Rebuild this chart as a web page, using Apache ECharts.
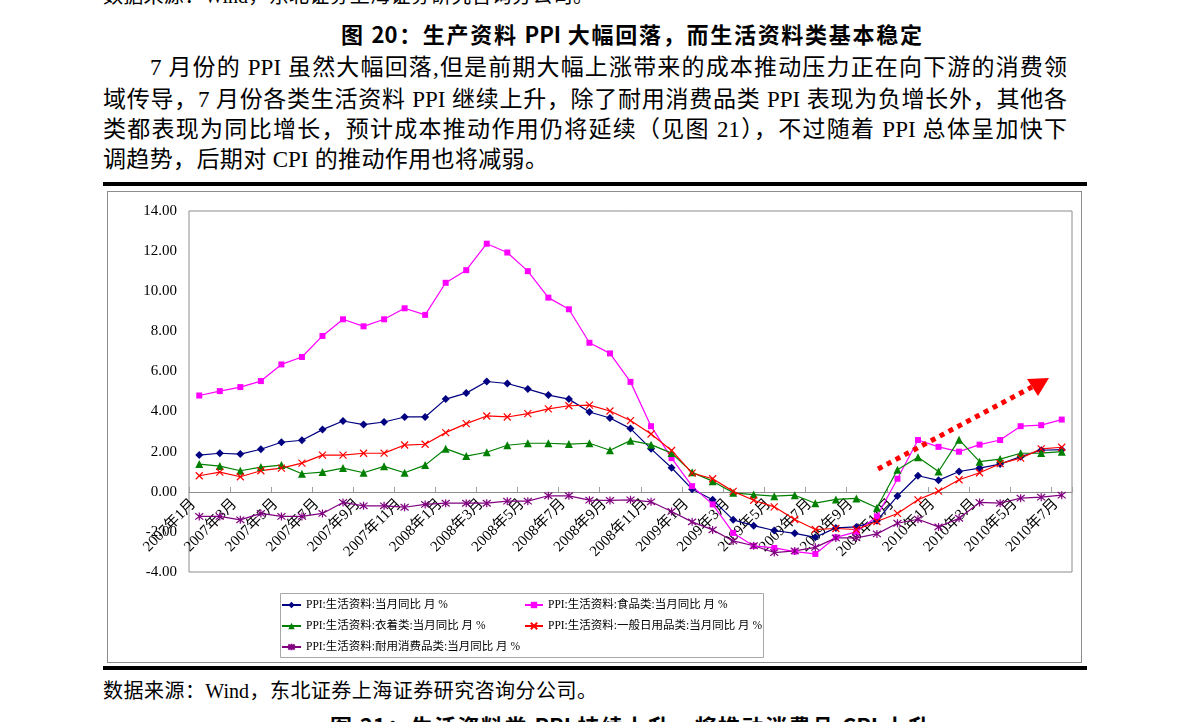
<!DOCTYPE html>
<html><head><meta charset="utf-8">
<script src="https://cdn.jsdelivr.net/npm/echarts@6/dist/echarts.min.js"></script>
<style>
html,body{margin:0;padding:0;background:#fff;width:1191px;height:722px;overflow:hidden;position:relative;}
#chart{position:absolute;left:0;top:0;width:1191px;height:722px;}
.t{position:absolute;color:#000;font-family:'Liberation Serif','Noto Sans CJK SC',serif;overflow:visible;}
.j{text-align:justify;text-align-last:justify;}
.b{font-weight:bold;font-family:'Noto Sans CJK SC','Liberation Sans',sans-serif;}
.rule{position:absolute;background:#000;}
#box{position:absolute;left:107px;top:191px;width:973px;height:470px;border:1px solid #8c8c8c;}
</style></head>
<body>
<div class="t j" style="left:103px;top:-16px;width:490px;font-size:20px;line-height:24px;">数据来源：Wind，东北证券上海证券研究咨询分公司。</div>
<div class="t j b" style="left:341px;top:19px;width:581px;font-size:22px;line-height:28px;">图 20：生产资料 PPI 大幅回落，而生活资料类基本稳定</div>
<div class="t j" style="left:150px;top:54px;width:917px;font-size:23px;line-height:28px;">7 月份的 PPI 虽然大幅回落,但是前期大幅上涨带来的成本推动压力正在向下游的消费领</div>
<div class="t j" style="left:103px;top:86px;width:964px;font-size:23px;line-height:28px;">域传导，7 月份各类生活资料 PPI 继续上升，除了耐用消费品类 PPI 表现为负增长外，其他各</div>
<div class="t j" style="left:103px;top:116px;width:964px;font-size:23px;line-height:28px;">类都表现为同比增长，预计成本推动作用仍将延续（见图 21），不过随着 PPI 总体呈加快下</div>
<div class="t j" style="left:103px;top:146px;width:445px;font-size:23px;line-height:28px;">调趋势，后期对 CPI 的推动作用也将减弱。</div>
<div class="rule" style="left:103px;top:182px;width:984px;height:4px;"></div>
<div id="box"></div>
<div class="rule" style="left:103px;top:666px;width:984px;height:4px;"></div>
<div class="t j" style="left:103px;top:679px;width:494px;font-size:20px;line-height:24px;">数据来源：Wind，东北证券上海证券研究咨询分公司。</div>
<div class="t j b" style="left:330px;top:711px;width:600px;font-size:22px;line-height:28px;">图 21：生活资料类 PPI 持续上升，将推动消费品 CPI 上升</div>
<div id="chart"></div>
<script>
const months = ['2007年1月','2007年2月','2007年3月','2007年4月','2007年5月','2007年6月','2007年7月','2007年8月','2007年9月','2007年10月','2007年11月','2007年12月',
'2008年1月','2008年2月','2008年3月','2008年4月','2008年5月','2008年6月','2008年7月','2008年8月','2008年9月','2008年10月','2008年11月','2008年12月',
'2009年1月','2009年2月','2009年3月','2009年4月','2009年5月','2009年6月','2009年7月','2009年8月','2009年9月','2009年10月','2009年11月','2009年12月',
'2010年1月','2010年2月','2010年3月','2010年4月','2010年5月','2010年6月','2010年7月'];
const yTicks = [-4, -2, 0, 2, 4, 6, 8, 10, 12, 14];
const seriesNames = ['PPI:生活资料:当月同比 月 %','PPI:生活资料:食品类:当月同比 月 %','PPI:生活资料:衣着类:当月同比 月 %','PPI:生活资料:一般日用品类:当月同比 月 %','PPI:生活资料:耐用消费品类:当月同比 月 %'];
const overall = [1.83,1.92,1.88,2.12,2.47,2.57,3.1,3.53,3.35,3.48,3.73,3.73,4.62,4.92,5.5,5.4,5.12,4.82,4.62,3.98,3.68,3.15,2.14,1.2,0.13,-0.4,-1.4,-1.69,-1.93,-2.07,-2.27,-1.8,-1.75,-1.45,-0.21,0.8,0.57,1.01,1.18,1.38,1.75,2.07,2.1];
const food = [4.8,5.02,5.22,5.52,6.35,6.72,7.77,8.6,8.25,8.6,9.15,8.82,10.42,11.05,12.37,11.93,11.0,9.68,9.1,7.43,6.9,5.48,3.27,1.68,0.28,-0.63,-2.05,-2.7,-2.8,-2.98,-3.1,-2.27,-2.0,-1.23,0.65,2.58,2.24,2.0,2.35,2.58,3.27,3.32,3.6];
const clothing = [1.38,1.28,1.05,1.23,1.33,0.9,0.98,1.18,0.95,1.27,0.95,1.33,2.15,1.78,1.97,2.32,2.42,2.42,2.38,2.42,2.07,2.55,2.35,1.93,0.97,0.53,-0.05,-0.14,-0.22,-0.17,-0.57,-0.38,-0.33,-0.8,1.1,1.72,1.01,2.6,1.5,1.63,1.92,1.93,2.0];
const dailyUse = [0.8,0.98,0.75,1.05,1.18,1.43,1.83,1.83,1.92,1.93,2.33,2.37,2.95,3.4,3.78,3.73,3.9,4.13,4.29,4.32,4.03,3.55,2.88,2.06,0.93,0.65,0.02,-0.42,-0.75,-1.38,-1.88,-1.83,-1.88,-1.48,-1.08,-0.4,0.03,0.6,0.95,1.4,1.68,2.14,2.22];
const durable = [-1.23,-1.23,-1.4,-1.08,-1.23,-1.23,-1.08,-0.53,-0.7,-0.7,-0.77,-0.63,-0.57,-0.57,-0.57,-0.47,-0.47,-0.2,-0.2,-0.42,-0.43,-0.4,-0.5,-0.98,-1.5,-1.9,-2.45,-2.69,-3.03,-2.95,-2.77,-2.3,-2.3,-2.1,-1.57,-1.37,-1.75,-1.32,-0.53,-0.57,-0.32,-0.27,-0.17];

const FONT = "'Liberation Serif','Noto Sans CJK SC',serif";
const xPath = 'path://M0,0L10,10M10,0L0,10';
const starPath = 'path://M5,0L5,10M1,1L9,9M9,1L1,9';

function mkSeries(name, data, color, symbol, size, stroke) {
  return {
    name, type:'line', data, symbol, symbolSize:size,
    lineStyle:{color, width:1.2},
    itemStyle: stroke ? {color, borderColor:color, borderWidth:1.2} : {color},
    emphasis:{disabled:true}
  };
}
function mkLegend(name, left, top, iw) {
  return {data:[name], left, top, padding:0, itemGap:0, itemWidth:iw, itemHeight:8,
    textStyle:{fontSize:11.5, fontFamily:FONT, color:'#000', lineHeight:14}};
}
const chart = echarts.init(document.getElementById('chart'));
chart.setOption({
  animation:false,
  grid:{left:189, top:211, right:119, bottom:150, show:true, borderColor:'#8c8c8c', borderWidth:1, backgroundColor:'transparent'},
  xAxis:{type:'category', data:months, boundaryGap:true, position:'bottom', offset:-80,
    axisLine:{onZero:false, lineStyle:{color:'#8c8c8c', width:1}},
    axisTick:{show:true, interval:1, inside:true, length:5, lineStyle:{color:'#a0a0a0'}},
    axisLabel:{interval:1, rotate:45, fontSize:15, fontFamily:FONT, color:'#000', margin:4, padding:[0,8,0,0]},
    splitLine:{show:false}},
  yAxis:{type:'value', min:yTicks[0], max:yTicks[yTicks.length-1], interval:2,
    axisLine:{show:false}, axisTick:{show:false}, splitLine:{show:false},
    axisLabel:{formatter:v=>v.toFixed(2), fontSize:15, fontFamily:FONT, color:'#000', margin:12}},
  legend:[
    mkLegend(seriesNames[0], 281, 598, 19),
    mkLegend(seriesNames[1], 524, 598, 18),
    mkLegend(seriesNames[2], 281, 619, 19),
    mkLegend(seriesNames[3], 524, 619, 18),
    mkLegend(seriesNames[4], 281, 640, 19)
  ],
  graphic:[
    {type:'rect', shape:{x:280.5, y:593.5, width:483, height:64}, style:{fill:'none', stroke:'#a8a8a8', lineWidth:1}, silent:true},
    {type:'line', shape:{x1:878, y1:469, x2:1032, y2:387}, style:{stroke:'#ff0000', lineWidth:5, lineDash:[5,5]}, silent:true, z:100},
    {type:'polygon', shape:{points:[[1049,378],[1027,379],[1038,396]]}, style:{fill:'#ff0000'}, silent:true, z:100}
  ],
  series:[
    mkSeries(seriesNames[0], overall, '#000080', 'diamond', 8, false),
    mkSeries(seriesNames[1], food, '#ff00ff', 'rect', 6, false),
    mkSeries(seriesNames[2], clothing, '#008000', 'triangle', 8, false),
    mkSeries(seriesNames[3], dailyUse, '#ff0000', xPath, 7, true),
    mkSeries(seriesNames[4], durable, '#800080', starPath, 8, true)
  ]
});
</script>
</body></html>
